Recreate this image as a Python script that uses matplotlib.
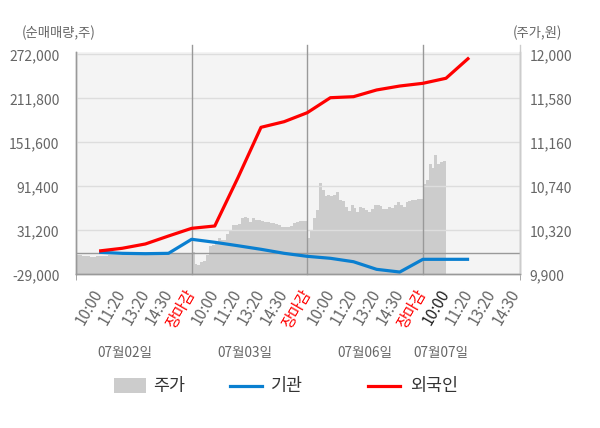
import numpy as np
import matplotlib
matplotlib.use("Agg")
import matplotlib.pyplot as plt
from matplotlib.patches import Rectangle
from matplotlib.lines import Line2D

plt.rcParams['font.family'] = ['Noto Sans CJK KR', 'DejaVu Sans']

# x tick labels (one slot each), day labels
time_labels = ["10:00", "11:20", "13:20", "14:30", "장마감"] * 3 + ["10:00", "11:20", "13:20", "14:30"]
day_labels = ["07월02일", "07월03일", "07월06일", "07월07일"]

# net buying (shares) at slots 1..17
foreign = [2900, 6600, 12500, 23400, 33900, 37100, 103000, 172100, 179800, 192100,
           212600, 214000, 223200, 228600, 232300, 239200, 267400]
institution = [1100, -300, -800, -300, 18900, 14800, 10100, 5200, -300, -4400,
               -7100, -11800, -22200, -25900, -8500, -8500, -8500]

# intraday price (won), 40 steps per day
day1_price = [10084, 10084, 10075, 10075, 10072, 10068, 10068, 10070, 10075, 10078,
              10075, 10082, 10084, 10084, 10086, 10084, 10091, 10091, 10089, 10091,
              10093, 10091, 10091, 10089, 10091, 10091, 10093, 10091, 10091, 10089,
              10091, 10093, 10100, 10100, 10098, 10100, 10100, 10100, 10102, 10100]
day2_price = [10116, 10000, 9989, 10015, 10027, 10084, 10173, 10180, 10185, 10244,
              10227, 10227, 10280, 10323, 10371, 10371, 10380, 10440, 10450, 10440,
              10402, 10434, 10418, 10418, 10410, 10402, 10400, 10387, 10387, 10380,
              10375, 10354, 10354, 10350, 10360, 10387, 10400, 10412, 10412, 10412]
day3_price = [10244, 10323, 10434, 10514, 10769, 10705, 10650, 10660, 10647, 10655,
              10683, 10609, 10600, 10545, 10504, 10561, 10530, 10497, 10545, 10530,
              10514, 10497, 10520, 10561, 10565, 10550, 10520, 10525, 10545, 10530,
              10560, 10593, 10560, 10545, 10590, 10600, 10609, 10609, 10619, 10619]
day4_price = [10762, 10800, 10950, 10912, 11040, 10953, 10975, 10981]
day_prices = [day1_price, day2_price, day3_price, day4_price]

left_ticks = [-29000, 31200, 91400, 151600, 211800, 272000]
right_ticks = [9900, 10320, 10740, 11160, 11580, 12000]

W, H = 600, 428
def fx(x):
    return x / W
def fy(y):
    return 1 - y / H

fig = plt.figure(figsize=(6, 4.28), dpi=100)
ax2 = fig.add_axes([fx(76), fy(274.3), fx(444), 220 / H + 2.6 / H])
ax1 = ax2.twinx()
ax1.set_zorder(ax2.get_zorder() + 1)
ax1.patch.set_visible(False)
ax2.set_facecolor("#f4f4f4")

xmax = 19.2
# price area
for d, vals in enumerate(day_prices):
    xs = d * 5 + np.arange(len(vals) + 1) * 5 / 40
    ys = np.r_[vals, vals[-1]]
    ax2.fill_between(xs, ys, 9900, step='post', color="#cccccc", lw=0)

# lines
slots = np.arange(1, len(foreign) + 1)
ax1.plot(slots, institution, color="#0a7fd0", lw=2.3, solid_capstyle='butt', zorder=4)
ax1.plot(slots, foreign, color="#ff0000", lw=2.3, solid_capstyle='butt', zorder=5)

# grid and separators
for v in left_ticks[1:]:
    ax1.axhline(v, color="#dddddd", lw=1, zorder=1)
ax1.axhline(0, color="#999999", lw=1, zorder=2)
for v in [5, 10, 15]:
    ax1.axvline(v, ymin=0, ymax=1.03, color="#999999", lw=1, zorder=2, clip_on=False)
ax1.axvline(xmax, ymin=0, ymax=1.03, color="#cccccc", lw=1, zorder=2, clip_on=False)

ax2.set_xlim(0, xmax)
ax1.set_ylim(-29000, 272000 + 2.6 * 1368.2)
ax2.set_ylim(9900, 12000 + 2.6 * 9.545)

ax1.yaxis.tick_left()
ax2.yaxis.tick_right()
ax1.set_yticks(left_ticks)
ax1.set_yticklabels([f"{v:,}" for v in left_ticks])
ax2.set_yticks(right_ticks)
ax2.set_yticklabels([f"{v:,}" for v in right_ticks])
ax1.tick_params(axis='y', length=0, pad=12, labelsize=10, labelcolor="#666666")
ax2.tick_params(axis='y', length=0, pad=7, labelsize=10, labelcolor="#666666")

for a in (ax1, ax2):
    a.spines["top"].set_visible(False)
    for s in ["left", "bottom"]:
        a.spines[s].set_color("#999999")
        a.spines[s].set_linewidth(1)
    a.spines["right"].set_color("#cccccc")
    a.spines["right"].set_linewidth(1)

# x ticks
tick_pos = np.arange(1, len(time_labels) + 1)
ax2.set_xticks(tick_pos)
ax2.set_xticklabels(time_labels, rotation=60, rotation_mode='anchor', ha='right', va='center')
ax2.tick_params(axis='x', length=0, pad=12, labelsize=11, labelcolor="#666666")
for i, t in enumerate(ax2.get_xticklabels()):
    if time_labels[i] == "장마감":
        t.set_color("#ff0000")
    elif i == 15:
        t.set_color("#222222")
ax2.set_xticks([0, 5, 10, 15, xmax], minor=True)
ax2.tick_params(axis='x', which='minor', length=4, color="#999999")

# day labels
for x, lab in zip([125, 245, 365, 441], day_labels):
    fig.text(fx(x), fy(353), lab, ha='center', va='center', fontsize=9.8, color="#666666")

# unit labels
fig.text(fx(22), fy(33), "(순매매량,주)", ha='left', va='center', fontsize=9.6, color="#666666")
fig.text(fx(562), fy(33), "(주가,원)", ha='right', va='center', fontsize=9.6, color="#666666")

# legend
ly = fy(385.5)
fig.patches.append(Rectangle((fx(114), fy(393)), fx(32), 15 / H, transform=fig.transFigure,
                             color="#cccccc", lw=0))
fig.text(fx(153), ly, "주가", ha='left', va='center', fontsize=12.5, color="#333333")
fig.lines.append(Line2D([fx(230), fx(262)], [ly, ly], transform=fig.transFigure,
                        color="#0a7fd0", lw=2.3))
fig.text(fx(271), ly, "기관", ha='left', va='center', fontsize=12.5, color="#333333")
fig.lines.append(Line2D([fx(368), fx(400)], [ly, ly], transform=fig.transFigure,
                        color="#ff0000", lw=2.3))
fig.text(fx(410), ly, "외국인", ha='left', va='center', fontsize=12.5, color="#333333")

fig.savefig("out.png", dpi=100)
